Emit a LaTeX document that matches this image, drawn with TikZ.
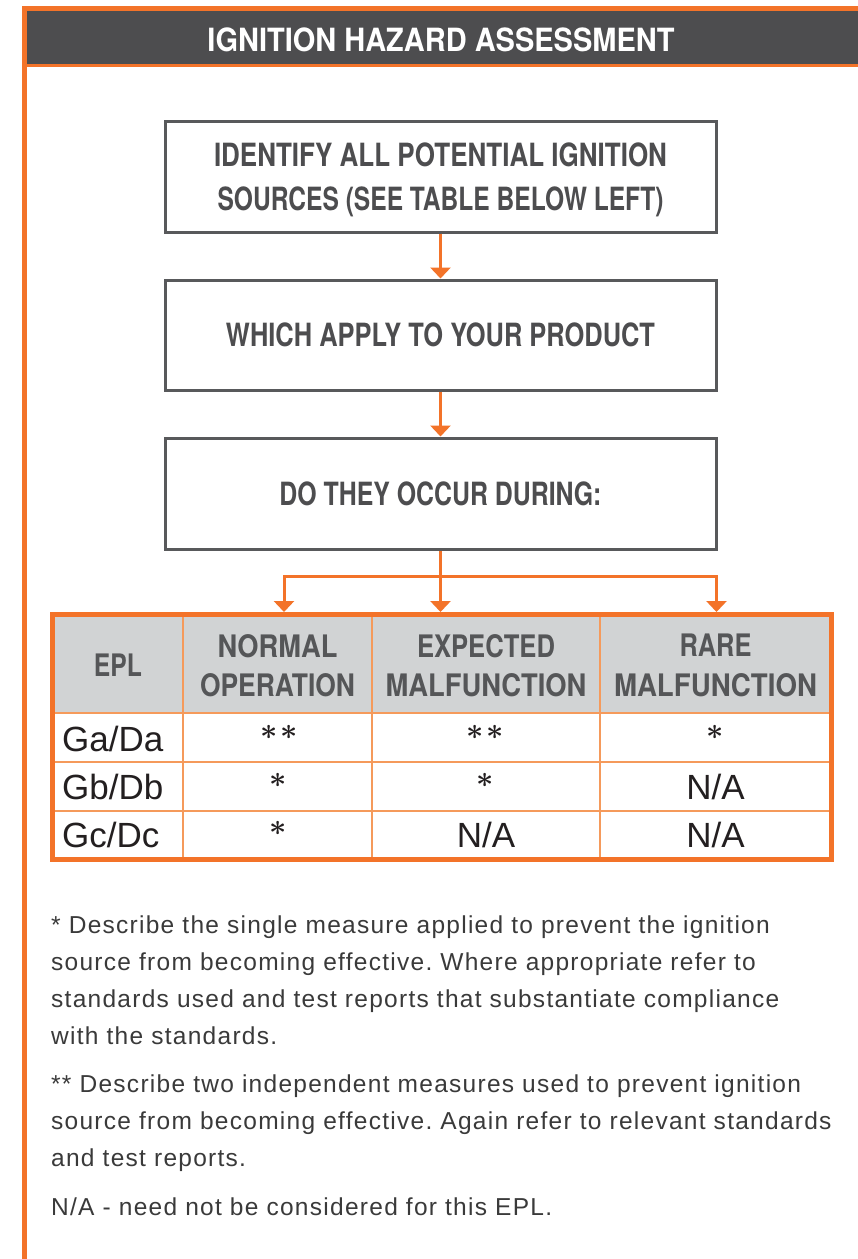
\documentclass[tikz,border=0pt]{standalone}
\usepackage{fontspec}
\usepackage{graphicx}
\usetikzlibrary{arrows.meta,calc}
\setmainfont{Liberation Sans}
\newfontfamily\hfont{TeX Gyre Heros}
\newfontfamily\ffont[LetterSpace=5.2]{Liberation Sans}
\definecolor{brand}{HTML}{F37329}
\definecolor{gridorange}{HTML}{F59A5B}
\definecolor{hdrdark}{HTML}{4D4D4F}
\definecolor{hdrgray}{HTML}{D1D3D4}
\definecolor{boxgray}{HTML}{58595B}
\definecolor{boxtext}{HTML}{4D4D4F}
\definecolor{theadtext}{HTML}{555658}
\definecolor{celltext}{HTML}{231F20}
\definecolor{fntext}{HTML}{3A3A3A}
\newcommand\hw[2]{\resizebox{#1pt}{\height}{#2}}
\newcommand\cstar{\raisebox{11.5pt}{\fontsize{10}{12}\selectfont\boldmath\scalebox{3}{$\ast$}}}
\frenchspacing
\begin{document}
\begin{tikzpicture}[x=1pt,y=-1pt,
  flowbox/.style={draw=boxgray, line width=3pt, minimum width=551pt, minimum height=111pt, inner sep=0pt, align=center, text=boxtext, font=\hfont\bfseries\fontsize{32}{44}\selectfont},
  arr/.style={draw=brand, line width=3pt, line join=miter, -{Triangle[width=20pt,length=11pt]}},
  thead/.style={align=center, inner sep=0pt, text=theadtext, font=\hfont\bfseries\fontsize{31}{39.5}\selectfont},
  cell/.style={inner sep=0pt, text=celltext, font=\fontsize{35}{35}\selectfont},
  fn/.style={inner sep=0pt, anchor=base west, text=fntext, font=\ffont\fontsize{24.5}{24.5}\selectfont},
  gridline/.style={draw=gridorange, line width=2pt},
]
\useasboundingbox (0,0) rectangle (858,1259);
\clip (0,0) rectangle (858,1259);
\fill[white] (0,0) rectangle (858,1259);
% header band
\fill[hdrdark] (24,9) rectangle (870,65);
\draw[brand, line width=5pt] (24.5,1275) -- (24.5,8.5) -- (875,8.5);
\draw[brand, line width=2.5pt] (24.5,65.5) -- (875,65.5);
\node[text=white, inner sep=0pt, font=\hfont\bfseries\fontsize{32}{32}\selectfont] (title) at (441,40) {\hw{467}{IGNITION HAZARD ASSESSMENT}};
% flow boxes
\node[flowbox] (b1) at (440.5,176.5) {\hw{453}{IDENTIFY ALL POTENTIAL IGNITION}\\\smash{\hw{446}{SOURCES (SEE TABLE BELOW LEFT)}}};
\node[flowbox, minimum height=110pt] (b2) at (440.5,335) {\hw{429}{WHICH APPLY TO YOUR PRODUCT}};
\node[flowbox] (b3) at (440.5,493.5) {\hw{322}{DO THEY OCCUR DURING:}};
\draw[arr] (b1) -- (b2);
\draw[arr] (b2) -- (b3);
% table
\fill[hdrgray] (52.5,614.5) rectangle (831.5,713);
\draw[gridline] (183,614.5) -- (183,859.5);
\draw[gridline] (372,614.5) -- (372,859.5);
\draw[gridline] (600,614.5) -- (600,859.5);
\draw[gridline] (52.5,713) -- (831.5,713);
\draw[gridline] (52.5,762) -- (831.5,762);
\draw[gridline] (52.5,810.5) -- (831.5,810.5);
\node[draw=brand, line width=5pt, minimum width=779pt, minimum height=245pt, inner sep=0pt, anchor=north west] (tbl) at (50,612) {};
% connectors to table
\coordinate (jl) at (284,576);
\coordinate (jr) at (716.5,576);
\draw[arr] (b3.south) -- (b3.south |- tbl.north);
\draw[arr, {Triangle[width=20pt,length=11pt]}-{Triangle[width=20pt,length=11pt]}] (jl |- tbl.north) -- (jl) -- (jr) -- (jr |- tbl.north);
% table header
\node[thead] (h1) at (118,665) {\hw{48}{EPL}};
\node[thead] (h2) at (277.5,665.5) {\hw{120}{NORMAL}\\\hw{155}{OPERATION}};
\node[thead] (h3) at (486,665.5) {\hw{138}{EXPECTED}\\\hw{201}{MALFUNCTION}};
\node[thead] (h4) at (715.5,665.5) {\hw{72}{RARE}\\\hw{203}{MALFUNCTION}};
% table body
\node[cell, anchor=base west] (r1) at (62,751) {Ga/Da};
\node[cell, anchor=base west] (r2) at (62,799) {Gb/Db};
\node[cell, anchor=base west] (r3) at (62,847) {Gc/Dc};
\node[cell, anchor=base] (c12) at (279,751) {\cstar\hspace{2pt}\cstar};
\node[cell, anchor=base] (c13) at (485,751) {\cstar\hspace{2pt}\cstar};
\node[cell, anchor=base] (c14) at (715.5,751) {\cstar};
\node[cell, anchor=base] (c22) at (278,799) {\cstar};
\node[cell, anchor=base] (c23) at (485,799) {\cstar};
\node[cell, anchor=base] (c24) at (715.5,799) {N/A};
\node[cell, anchor=base] (c32) at (278,847) {\cstar};
\node[cell, anchor=base] (c33) at (486,847) {N/A};
\node[cell, anchor=base] (c34) at (715.5,847) {N/A};
% footnotes
\node[fn] (f1) at (51,933) {* Describe the single measure applied to prevent the ignition};
\node[fn] (f2) at (51,970) {source from becoming effective. Where appropriate refer to};
\node[fn] (f3) at (51,1007) {standards used and test reports that substantiate compliance};
\node[fn] (f4) at (51,1044) {with the standards.};
\node[fn] (f5) at (51,1092) {** Describe two independent measures used to prevent ignition};
\node[fn] (f6) at (51,1129) {source from becoming effective. Again refer to relevant standards};
\node[fn] (f7) at (51,1166) {and test reports.};
\node[fn] (f8) at (51,1215) {N/A - need not be considered for this EPL.};
\end{tikzpicture}
\end{document}
